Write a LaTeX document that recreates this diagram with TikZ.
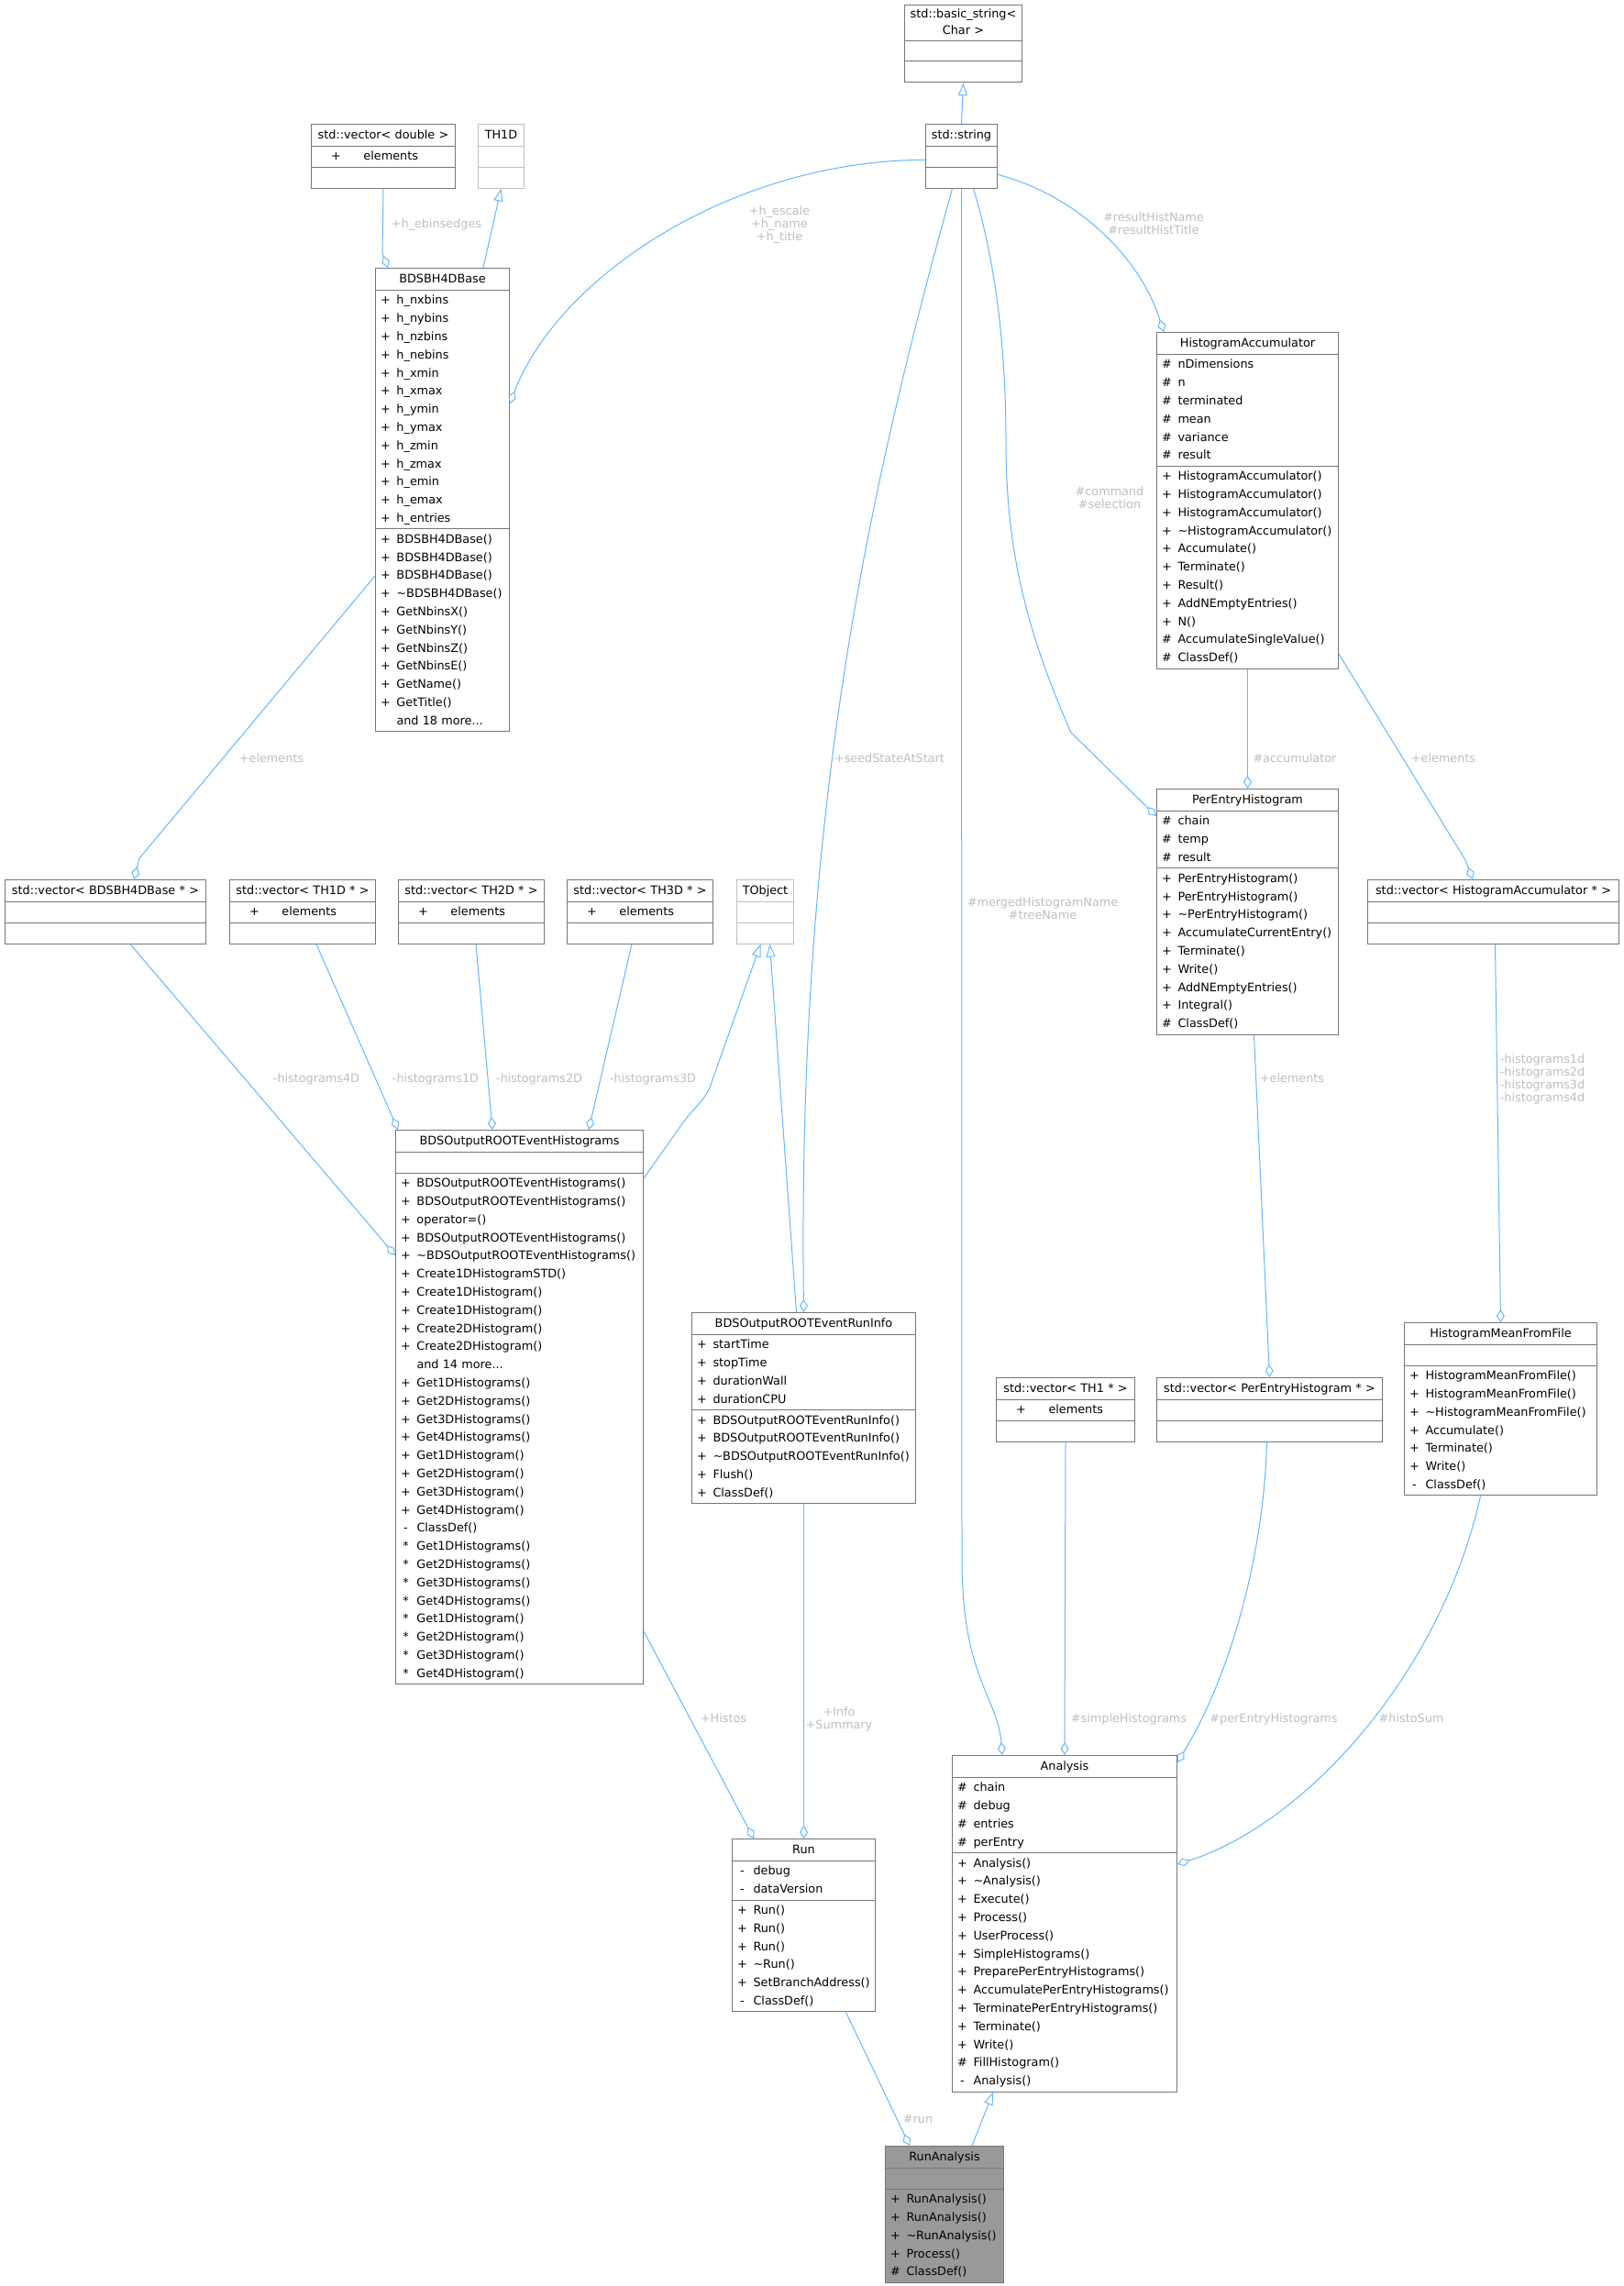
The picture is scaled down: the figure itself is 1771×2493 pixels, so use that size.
\documentclass[tikz,border=0pt]{standalone}
\usepackage{fontspec}
\setmainfont{DejaVu Sans}
\usepackage{array}
\usetikzlibrary{arrows.meta,shapes.multipart}
\definecolor{edgeblue}{HTML}{63B8FF}
\definecolor{boxgray}{HTML}{767676}
\definecolor{extgray}{HTML}{BFBFBF}
\definecolor{labelgray}{HTML}{BEBEBE}
\definecolor{rootgray}{HTML}{999999}
\setlength{\parindent}{0pt}

% compartments of a class box
\newcommand{\ctitle}[1]{\makebox[\hsize]{\rule[-7pt]{0pt}{21pt}#1}}
\newcommand{\members}[1]{\begin{tabular}{@{}>{\centering\arraybackslash}p{12pt}@{\hspace{6pt}}l@{}}#1\end{tabular}}
\newcommand{\tmember}[2]{\strut\hspace{16pt}\makebox[12pt]{#1}\hspace{24pt}#2}

\begin{document}
\begin{tikzpicture}[x=1pt, y=-1pt,
    cls/.style={rectangle split, rectangle split parts=3, draw=boxgray, line width=1pt,
        fill=white, anchor=north west, inner xsep=5pt, inner ysep=1pt, align=left,
        font=\fontsize{12.8}{19.8}\selectfont},
    ext/.style={cls, draw=extgray},
    link/.style={draw=edgeblue, line width=1pt},
    has/.style={link, -{Diamond[open, length=14pt, width=9pt]}},
    isa/.style={link, -{Triangle[open, length=14pt, width=10pt]}},
    lbl/.style={text=labelgray, inner sep=0pt, align=center,
        font=\fontsize{12.8}{14.3}\selectfont},
]

\path[use as bounding box, fill=white] (0,0) rectangle (1771,2493);

% Top row
\node[cls, text width=118pt] (basicstr) at (986,5)
    {\ctitle{\renewcommand{\arraystretch}{0.9}\begin{tabular}{@{}c@{}}std::basic\_string<\\Char >\end{tabular}}%
    \nodepart{two}\strut\nodepart{three}\strut};
\node[cls, text width=68pt] (stdstr) at (1009,135)
    {\ctitle{std::string}\nodepart{two}\strut\nodepart{three}\strut};
\node[cls, text width=147pt] (vecdbl) at (339,135)
    {\ctitle{std::vector< double >}\nodepart{two}\tmember{+}{elements}\nodepart{three}\strut};
\node[ext, text width=40pt] (th1d) at (521,135)
    {\ctitle{TH1D}\nodepart{two}\strut\nodepart{three}\strut};

% Histogram classes
\node[cls, text width=136pt] (bhbase) at (409,292)
    {\ctitle{BDSBH4DBase}%
    \nodepart{two}\members{+ & h\_nxbins\\ + & h\_nybins\\ + & h\_nzbins\\ + & h\_nebins\\
        + & h\_xmin\\ + & h\_xmax\\ + & h\_ymin\\ + & h\_ymax\\ + & h\_zmin\\ + & h\_zmax\\
        + & h\_emin\\ + & h\_emax\\ + & h\_entries}%
    \nodepart{three}\members{+ & BDSBH4DBase()\\ + & BDSBH4DBase()\\ + & BDSBH4DBase()\\
        + & \textasciitilde BDSBH4DBase()\\ + & GetNbinsX()\\ + & GetNbinsY()\\ + & GetNbinsZ()\\
        + & GetNbinsE()\\ + & GetName()\\ + & GetTitle()\\ & and 18 more...}};
\node[cls, text width=188pt] (histacc) at (1261,362)
    {\ctitle{HistogramAccumulator}%
    \nodepart{two}\members{\# & nDimensions\\ \# & n\\ \# & terminated\\ \# & mean\\
        \# & variance\\ \# & result}%
    \nodepart{three}\members{+ & HistogramAccumulator()\\ + & HistogramAccumulator()\\
        + & HistogramAccumulator()\\ + & \textasciitilde HistogramAccumulator()\\ + & Accumulate()\\
        + & Terminate()\\ + & Result()\\ + & AddNEmptyEntries()\\ + & N()\\
        \# & AccumulateSingleValue()\\ \# & ClassDef()}};
\node[cls, text width=188pt] (perentry) at (1261,860)
    {\ctitle{PerEntryHistogram}%
    \nodepart{two}\members{\# & chain\\ \# & temp\\ \# & result}%
    \nodepart{three}\members{+ & PerEntryHistogram()\\ + & PerEntryHistogram()\\
        + & \textasciitilde PerEntryHistogram()\\ + & AccumulateCurrentEntry()\\ + & Terminate()\\
        + & Write()\\ + & AddNEmptyEntries()\\ + & Integral()\\ \# & ClassDef()}};

% Containers
\node[cls, text width=209pt] (vecbh) at (5,959)
    {\ctitle{std::vector< BDSBH4DBase * >}\nodepart{two}\strut\nodepart{three}\strut};
\node[cls, text width=149pt] (vecth1d) at (250,959)
    {\ctitle{std::vector< TH1D * >}\nodepart{two}\tmember{+}{elements}\nodepart{three}\strut};
\node[cls, text width=149pt] (vecth2d) at (434,959)
    {\ctitle{std::vector< TH2D * >}\nodepart{two}\tmember{+}{elements}\nodepart{three}\strut};
\node[cls, text width=149pt] (vecth3d) at (618,959)
    {\ctitle{std::vector< TH3D * >}\nodepart{two}\tmember{+}{elements}\nodepart{three}\strut};
\node[ext, text width=52pt] (tobject) at (803,959)
    {\ctitle{TObject}\nodepart{two}\strut\nodepart{three}\strut};
\node[cls, text width=264pt] (vecacc) at (1491,959)
    {\ctitle{std::vector< HistogramAccumulator * >}\nodepart{two}\strut\nodepart{three}\strut};

% Output classes
\node[cls, text width=260pt] (evhists) at (431,1232)
    {\ctitle{BDSOutputROOTEventHistograms}\nodepart{two}\strut%
    \nodepart{three}\members{+ & BDSOutputROOTEventHistograms()\\ + & BDSOutputROOTEventHistograms()\\
        + & operator=()\\ + & BDSOutputROOTEventHistograms()\\
        + & \textasciitilde BDSOutputROOTEventHistograms()\\ + & Create1DHistogramSTD()\\
        + & Create1DHistogram()\\ + & Create1DHistogram()\\ + & Create2DHistogram()\\
        + & Create2DHistogram()\\ & and 14 more...\\ + & Get1DHistograms()\\ + & Get2DHistograms()\\
        + & Get3DHistograms()\\ + & Get4DHistograms()\\ + & Get1DHistogram()\\ + & Get2DHistogram()\\
        + & Get3DHistogram()\\ + & Get4DHistogram()\\ - & ClassDef()\\ {*} & Get1DHistograms()\\
        {*} & Get2DHistograms()\\ {*} & Get3DHistograms()\\ {*} & Get4DHistograms()\\ {*} & Get1DHistogram()\\
        {*} & Get2DHistogram()\\ {*} & Get3DHistogram()\\ {*} & Get4DHistogram()}};
\node[cls, text width=234pt] (runinfo) at (754,1431)
    {\ctitle{BDSOutputROOTEventRunInfo}%
    \nodepart{two}\members{+ & startTime\\ + & stopTime\\ + & durationWall\\ + & durationCPU}%
    \nodepart{three}\members{+ & BDSOutputROOTEventRunInfo()\\ + & BDSOutputROOTEventRunInfo()\\
        + & \textasciitilde BDSOutputROOTEventRunInfo()\\ + & Flush()\\ + & ClassDef()}};
\node[cls, text width=141pt] (vecth1) at (1086,1502)
    {\ctitle{std::vector< TH1 * >}\nodepart{two}\tmember{+}{elements}\nodepart{three}\strut};
\node[cls, text width=236pt] (vecperentry) at (1261,1502)
    {\ctitle{std::vector< PerEntryHistogram * >}\nodepart{two}\strut\nodepart{three}\strut};
\node[cls, text width=200pt] (meanfile) at (1531,1442)
    {\ctitle{HistogramMeanFromFile}\nodepart{two}\strut%
    \nodepart{three}\members{+ & HistogramMeanFromFile()\\ + & HistogramMeanFromFile()\\
        + & \textasciitilde HistogramMeanFromFile()\\ + & Accumulate()\\ + & Terminate()\\
        + & Write()\\ - & ClassDef()}};

% Analysis classes
\node[cls, text width=235pt] (analysis) at (1038,1914)
    {\ctitle{Analysis}%
    \nodepart{two}\members{\# & chain\\ \# & debug\\ \# & entries\\ \# & perEntry}%
    \nodepart{three}\members{+ & Analysis()\\ + & \textasciitilde Analysis()\\ + & Execute()\\
        + & Process()\\ + & UserProcess()\\ + & SimpleHistograms()\\ + & PreparePerEntryHistograms()\\
        + & AccumulatePerEntryHistograms()\\ + & TerminatePerEntryHistograms()\\ + & Terminate()\\
        + & Write()\\ \# & FillHistogram()\\ - & Analysis()}};
\node[cls, text width=146pt] (run) at (798,2005)
    {\ctitle{Run}%
    \nodepart{two}\members{- & debug\\ - & dataVersion}%
    \nodepart{three}\members{+ & Run()\\ + & Run()\\ + & Run()\\ + & \textasciitilde Run()\\
        + & SetBranchAddress()\\ - & ClassDef()}};
\node[cls, fill=rootgray, text width=119pt] (runanalysis) at (965,2340)
    {\ctitle{RunAnalysis}\nodepart{two}\strut%
    \nodepart{three}\members{+ & RunAnalysis()\\ + & RunAnalysis()\\ + & \textasciitilde RunAnalysis()\\
        + & Process()\\ \# & ClassDef()}};

% Inheritance
\draw[isa] (stdstr.north) -- (basicstr.south);
\draw[isa] ([xshift=118pt]bhbase.north west) -- (th1d.south);
\draw[isa] ([yshift=-53pt]evhists.north east) -- (745,1224)
    .. controls (755,1210) and (766,1203) .. (774,1186) -- ([xshift=-5pt]tobject.south);
\draw[isa] ([xshift=-8pt]runinfo.north) -- ([xshift=5pt]tobject.south);
\draw[isa] ([xshift=30pt]runanalysis.north) -- ([xshift=-78pt]analysis.south);

% Usage from std::string
\draw[has] (vecdbl.south) -- (417,276) -- ([xshift=14pt]bhbase.north west);
\draw[has] ([yshift=-4pt]stdstr.west) .. controls (800,175) and (610,300) .. ([yshift=-148pt]bhbase.north east);
\draw[has] ([yshift=-20pt]stdstr.east) .. controls (1180,215) and (1245,285) .. ([xshift=8pt]histacc.north west);
\draw[has] ([xshift=13pt]stdstr.south) .. controls (1090,300) and (1097,400) .. (1097,483)
    .. controls (1097,600) and (1120,690) .. (1168,799) -- ([yshift=-30pt]perentry.north west);
\draw[has] ([xshift=-10pt]stdstr.south) .. controls (940,560) and (870,900) .. (runinfo.north);
\draw[has] (stdstr.south) -- (1049,1700) .. controls (1049,1830) and (1088,1850) .. ([xshift=-68pt]analysis.north);

% Usage between histogram classes
\draw[has] ([yshift=-336pt]bhbase.north west) -- (152,936) -- ([xshift=141pt]vecbh.north west);
\draw[has] ([xshift=27pt]vecbh.south) -- ([yshift=-137pt]evhists.north west);
\draw[has] ([xshift=15pt]vecth1d.south) -- ([xshift=3pt]evhists.north west);
\draw[has] ([xshift=5pt]vecth2d.south) -- ([xshift=106pt]evhists.north west);
\draw[has] ([xshift=-9pt]vecth3d.south) -- ([xshift=211pt]evhists.north west);
\draw[has] ([yshift=-351pt]histacc.north east) -- (1598,938) -- ([xshift=115pt]vecacc.north west);
\draw[has] (histacc.south) -- (perentry.north);
\draw[has] ([xshift=7pt]perentry.south) -- (vecperentry.north);
\draw[has] ([xshift=2pt]vecacc.south) -- (meanfile.north);

% Usage in Run and Analysis
\draw[has] ([yshift=-547pt]evhists.north east) -- ([xshift=24pt]run.north west);
\draw[has] (runinfo.south) -- (run.north);
\draw[has] (vecth1.south) -- (analysis.north);
\draw[has] ([xshift=-3pt]vecperentry.south) .. controls (1378,1700) and (1340,1830) .. ([yshift=-8pt]analysis.north east);
\draw[has] ([xshift=-22pt]meanfile.south) .. controls (1570,1830) and (1420,1990) .. ([yshift=-119pt]analysis.north east);
\draw[has] ([xshift=46pt]run.south) -- ([xshift=27pt]runanalysis.north west);

% Edge labels
\node[lbl] (lebins) at (476,245) {+h\_ebinsedges};
\node[lbl] (lhstr) at (850,245) {+h\_escale\\+h\_name\\+h\_title};
\node[lbl] (lresult) at (1258,244) {\#resultHistName\\\#resultHistTitle};
\node[lbl] (lcommand) at (1210,543) {\#command\\\#selection};
\node[lbl] (lseed) at (970,827) {+seedStateAtStart};
\node[lbl] (lmerged) at (1137,991) {\#mergedHistogramName\\\#treeName};
\node[lbl] (lbhel) at (296,827) {+elements};
\node[lbl] (laccel) at (1574,827) {+elements};
\node[lbl] (laccum) at (1412,827) {\#accumulator};
\node[lbl] (lpeel) at (1409,1176) {+elements};
\node[lbl] (lh4d) at (345,1177) {-histograms4D};
\node[lbl] (lh1d) at (475,1177) {-histograms1D};
\node[lbl] (lh2d) at (588,1177) {-histograms2D};
\node[lbl] (lh3d) at (712,1177) {-histograms3D};
\node[lbl] (lhists) at (1682,1177) {-histograms1d\\-histograms2d\\-histograms3d\\-histograms4d};
\node[lbl] (lhistos) at (789,1874) {+Histos};
\node[lbl] (linfo) at (915,1875) {+Info\\+Summary};
\node[lbl] (lsimple) at (1231,1875) {\#simpleHistograms};
\node[lbl] (lperentry) at (1389,1875) {\#perEntryHistograms};
\node[lbl] (lhistosum) at (1539,1874) {\#histoSum};
\node[lbl] (lrun) at (1001,2311) {\#run};

\end{tikzpicture}
\end{document}
